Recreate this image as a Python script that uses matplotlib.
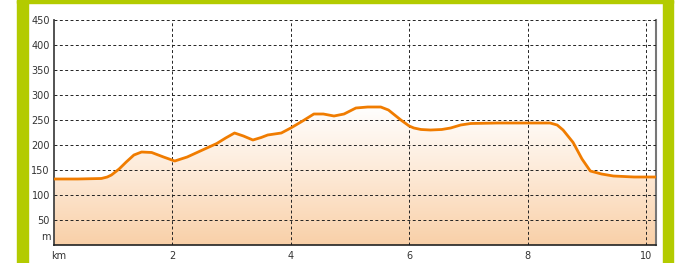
import numpy as np
import matplotlib
matplotlib.use('Agg')
import matplotlib.pyplot as plt
from matplotlib.patches import Rectangle, Polygon

# Elevation profile (km, m)
distance_km = [0.0, 0.4, 0.8, 0.9, 0.97, 1.1, 1.22, 1.35, 1.48, 1.65, 1.85, 2.04, 2.25,
               2.49, 2.75, 2.9, 3.05, 3.2, 3.36, 3.5, 3.61, 3.84, 4.0, 4.2, 4.39, 4.55,
               4.73, 4.9, 5.1, 5.3, 5.52, 5.65, 5.86, 6.0, 6.08, 6.2, 6.36, 6.55, 6.7, 6.87,
               7.04, 7.5, 8.0, 8.38, 8.5, 8.6, 8.77, 8.92, 9.06, 9.25, 9.45, 9.8, 10.17]
elevation_m = [132, 132, 133, 136, 140, 152, 166, 180, 186, 185, 176, 168, 176,
               189, 203, 214, 224, 218, 210, 215, 220, 224, 234, 248, 262, 262,
               258, 262, 274, 276, 276, 270, 250, 238, 234, 231, 230, 231, 234, 240,
               243, 244, 244, 244, 240, 230, 205, 172, 148, 142, 138, 136, 136]

y_ticks = [50, 100, 150, 200, 250, 300, 350, 400, 450]
x_ticks = [2, 4, 6, 8, 10]

fig = plt.figure(figsize=(6.75, 2.63), dpi=100)
fig.patch.set_facecolor('white')

# green frame
green = '#b3cb00'
fig.patches.append(Rectangle((17 / 675, 0), 10.5 / 675, 1, transform=fig.transFigure, color=green, zorder=0))
fig.patches.append(Rectangle((663 / 675, 0), 10 / 675, 1, transform=fig.transFigure, color=green, zorder=0))
fig.patches.append(Rectangle((17 / 675, 1 - 3.3 / 263), 656 / 675, 3.3 / 263, transform=fig.transFigure, color=green, zorder=0))

ax = fig.add_axes([54 / 675, 18 / 263, 602 / 675, 225 / 263])
ax.set_xlim(0, 10.17)
ax.set_ylim(0, 450)

x = np.array(distance_km)
y = np.array(elevation_m)

# gradient fill under the line
grad = np.linspace(0, 1, 256).reshape(-1, 1)
cmap = matplotlib.colors.LinearSegmentedColormap.from_list('fill', ['#f9d0a8', '#fde9d6', '#ffffff'])
img = ax.imshow(grad, extent=[0, 10.17, 0, 280], origin='lower', aspect='auto', cmap=cmap, zorder=1)
poly = Polygon(np.column_stack([np.r_[x[0], x, x[-1]], np.r_[0, y, 0]]), closed=True,
               facecolor='none', edgecolor='none', transform=ax.transData)
ax.add_patch(poly)
img.set_clip_path(poly)

ax.plot(x, y, color='#f07c00', lw=2.0, zorder=3, solid_capstyle='round', solid_joinstyle='round')

ax.set_yticks(y_ticks)
ax.set_xticks(x_ticks)
ax.tick_params(length=0, labelsize=7, colors='#333333', pad=3)
ax.tick_params(axis='x', pad=4)
ax.grid(True, color='#222222', linestyle=(0, (3, 2.5)), lw=0.7, zorder=2)
ax.set_axisbelow(False)

ax.spines['top'].set_visible(False)
ax.spines['left'].set_color('#444444')
ax.spines['left'].set_linewidth(1.3)
ax.spines['bottom'].set_color('#222222')
ax.spines['bottom'].set_linewidth(1.2)
ax.spines['right'].set_color('#777777')
ax.spines['right'].set_linewidth(1.5)

ax.text(-0.05, 16, 'm', transform=ax.transData, ha='right', va='center', fontsize=7, color='#333333')
ax.annotate('km', xy=(0.08, 0), xycoords=('data', 'axes fraction'), xytext=(0, -4),
            textcoords='offset points', ha='center', va='top', fontsize=7, color='#333333')

fig.savefig('out.png', dpi=100)
